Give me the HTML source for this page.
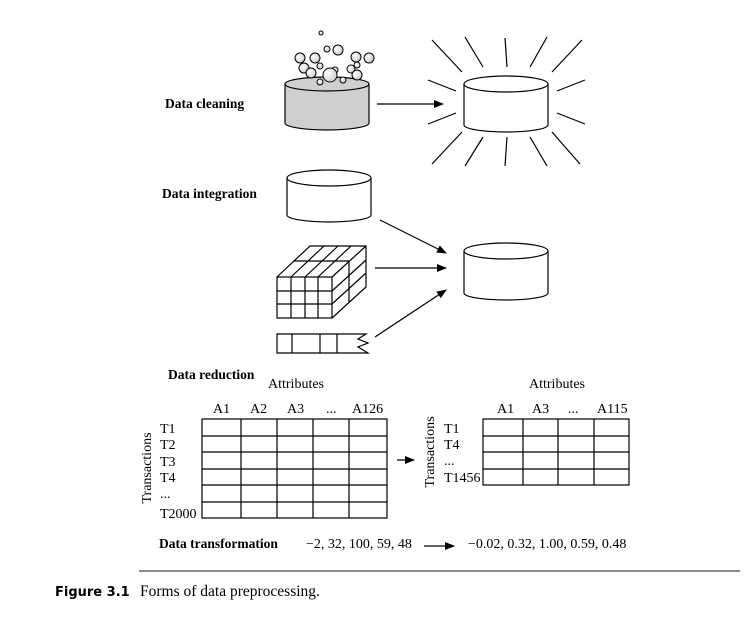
<!DOCTYPE html>
<html><head><meta charset="utf-8"><style>
html,body{margin:0;padding:0;background:#fff;}
svg{display:block;}
text{font-family:"Liberation Serif",serif;font-size:14px;fill:#000;}
.b{font-weight:bold;font-size:13.5px;}
</style></head><body>
<svg width="745" height="623" viewBox="0 0 745 623" xmlns="http://www.w3.org/2000/svg">
<defs>
<marker id="ah" markerWidth="10" markerHeight="8" refX="9" refY="4" orient="auto" markerUnits="userSpaceOnUse"><path d="M0,0 L10,4 L0,8 Z" fill="#000"/></marker>
<radialGradient id="bub" cx="0.35" cy="0.35" r="0.7"><stop offset="0" stop-color="#fff"/><stop offset="1" stop-color="#ccc"/></radialGradient>
</defs>
<g stroke="#000" stroke-width="1.2" fill="none">
<path d="M285,84 L285,123 A42,7 0 0 0 369,123 L369,84" fill="#cfcfcf"/>
<ellipse cx="327" cy="84" rx="42" ry="7" fill="#cfcfcf"/>
<g fill="url(#bub)" stroke-width="1">
<circle cx="321" cy="33" r="2"/><circle cx="327" cy="49" r="3"/><circle cx="338" cy="50" r="5"/>
<circle cx="300" cy="58" r="5"/><circle cx="315" cy="58" r="5"/><circle cx="356" cy="57" r="5"/>
<circle cx="357" cy="65" r="3"/><circle cx="369" cy="58" r="5"/><circle cx="351" cy="69" r="4"/>
<circle cx="320" cy="66" r="3"/><circle cx="304" cy="68" r="5"/><circle cx="311" cy="73" r="5"/>
<circle cx="335" cy="70" r="3"/><circle cx="330" cy="75" r="7"/><circle cx="357" cy="75" r="5"/>
<circle cx="343" cy="80" r="3"/><circle cx="320" cy="82" r="3"/>
</g>
<line x1="377" y1="104" x2="443" y2="104" marker-end="url(#ah)"/>
<path d="M464,84 L464,125 A42,7 0 0 0 548,125 L548,84" fill="#fff"/>
<ellipse cx="506" cy="84" rx="42" ry="8" fill="#fff"/>
<line x1="432" y1="40" x2="462" y2="72"/><line x1="465" y1="37" x2="483" y2="67"/><line x1="505" y1="38" x2="507" y2="67"/>
<line x1="547" y1="37" x2="530" y2="67"/><line x1="582" y1="40" x2="552" y2="72"/>
<line x1="428" y1="80" x2="456" y2="91"/><line x1="428" y1="124" x2="456" y2="113"/>
<line x1="585" y1="80" x2="557" y2="91"/><line x1="585" y1="124" x2="557" y2="113"/>
<line x1="432" y1="164" x2="462" y2="132"/><line x1="465" y1="166" x2="483" y2="137"/><line x1="505" y1="166" x2="507" y2="137"/>
<line x1="547" y1="166" x2="530" y2="137"/><line x1="580" y1="164" x2="552" y2="132"/>
<path d="M287,178 L287,215 A42,7 0 0 0 371,215 L371,178"/>
<ellipse cx="329" cy="178" rx="42" ry="8"/>
<path d="M464,251 L464,293 A42,7 0 0 0 548,293 L548,251"/>
<ellipse cx="506" cy="251" rx="42" ry="8"/>
<line x1="380" y1="220" x2="446" y2="253" marker-end="url(#ah)"/>
<line x1="375" y1="268" x2="446" y2="268" marker-end="url(#ah)"/>
<line x1="375" y1="337" x2="446" y2="290" marker-end="url(#ah)"/>
<rect x="277" y="277" width="55" height="41"/>
<line x1="291" y1="277" x2="291" y2="318"/><line x1="305" y1="277" x2="305" y2="318"/><line x1="318" y1="277" x2="318" y2="318"/>
<line x1="277" y1="291" x2="332" y2="291"/><line x1="277" y1="304" x2="332" y2="304"/>
<path d="M277,277 L310,246 L366,246 L366,287 L332,318 M332,277 L366,246"/>
<line x1="291" y1="277" x2="324" y2="246"/><line x1="305" y1="277" x2="338" y2="246"/><line x1="318" y1="277" x2="351" y2="246"/>
<path d="M293,261 L349,261 L349,302"/>
<line x1="332" y1="291" x2="366" y2="260"/><line x1="332" y1="304" x2="366" y2="273"/>
<path d="M337,334 L277,334 L277,353 L337,353 L368,353 L358,347 L368,343 L358,339 L366,334 L337,334"/>
<line x1="292" y1="334" x2="292" y2="353"/><line x1="320" y1="334" x2="320" y2="353"/><line x1="337" y1="334" x2="337" y2="353"/>
<rect x="202" y="419" width="185" height="99"/>
<line x1="241" y1="419" x2="241" y2="518"/><line x1="277" y1="419" x2="277" y2="518"/><line x1="313" y1="419" x2="313" y2="518"/><line x1="349" y1="419" x2="349" y2="518"/>
<line x1="202" y1="436" x2="387" y2="436"/><line x1="202" y1="452" x2="387" y2="452"/><line x1="202" y1="469" x2="387" y2="469"/><line x1="202" y1="485" x2="387" y2="485"/><line x1="202" y1="502" x2="387" y2="502"/>
<line x1="397" y1="460" x2="414" y2="460" marker-end="url(#ah)"/>
<rect x="483" y="419" width="146" height="66"/>
<line x1="523" y1="419" x2="523" y2="485"/><line x1="558" y1="419" x2="558" y2="485"/><line x1="594" y1="419" x2="594" y2="485"/>
<line x1="483" y1="436" x2="629" y2="436"/><line x1="483" y1="452" x2="629" y2="452"/><line x1="483" y1="469" x2="629" y2="469"/>
<line x1="424" y1="546" x2="454" y2="546" marker-end="url(#ah)"/>
<line x1="139" y1="571" x2="740" y2="571" stroke="#444"/>
</g>
<text class="b" x="165" y="108">Data cleaning</text>
<text class="b" x="162" y="198">Data integration</text>
<text class="b" x="168" y="379">Data reduction</text>
<text x="268" y="388">Attributes</text>
<text x="213" y="413">A1</text><text x="250" y="413">A2</text><text x="287" y="413">A3</text><text x="326" y="413">...</text><text x="352" y="413">A126</text>
<text x="160" y="433">T1</text><text x="160" y="449">T2</text><text x="160" y="466">T3</text><text x="160" y="482">T4</text><text x="160" y="498">...</text><text x="160" y="518">T2000</text>
<text transform="translate(151,468) rotate(-90)" text-anchor="middle">Transactions</text>
<text x="529" y="388">Attributes</text>
<text x="497" y="413">A1</text><text x="532" y="413">A3</text><text x="568" y="413">...</text><text x="597" y="413">A115</text>
<text x="444" y="433">T1</text><text x="444" y="449">T4</text><text x="444" y="465">...</text><text x="444" y="482">T1456</text>
<text transform="translate(434,452) rotate(-90)" text-anchor="middle">Transactions</text>
<text class="b" x="159" y="548">Data transformation</text>
<text x="306" y="548">−2, 32, 100, 59, 48</text>
<text x="468" y="548">−0.02, 0.32, 1.00, 0.59, 0.48</text>
<text x="55" y="596" style="font-family:'DejaVu Sans','Liberation Sans',sans-serif;font-weight:bold;font-size:13px">Figure 3.1</text>
<text x="140" y="596" style="font-size:15.5px">Forms of data preprocessing.</text>
</svg>
</body></html>
